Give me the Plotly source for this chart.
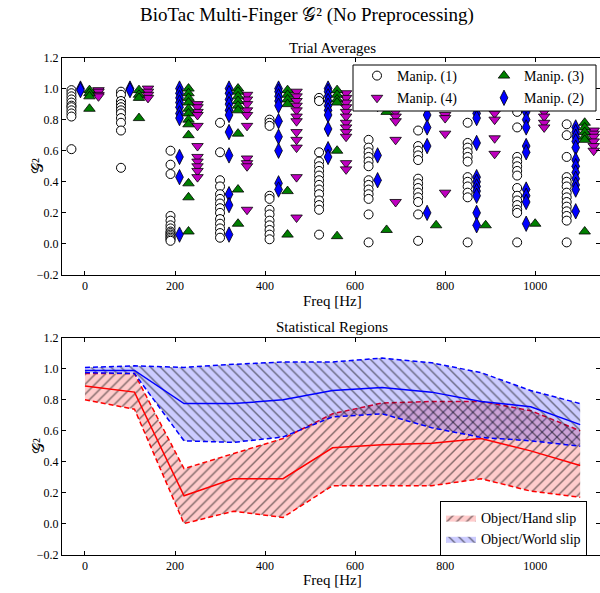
import plotly.graph_objects as go

# ---------------- data ----------------
freqs = [0, 110, 220, 330, 440, 550, 660, 770, 880, 990, 1100]

manip1 = [
    [0.99, 0.97, 0.95, 0.93, 0.91, 0.89, 0.88, 0.86, 0.84, 0.82, 0.61],
    [0.98, 0.96, 0.92, 0.90, 0.88, 0.86, 0.84, 0.81, 0.78, 0.73, 0.49],
    [0.60, 0.51, 0.45, 0.18, 0.15, 0.12, 0.10, 0.08, 0.07, 0.06, 0.05, 0.04, 0.03, 0.02],
    [0.78, 0.59, 0.41, 0.37, 0.32, 0.29, 0.26, 0.23, 0.20, 0.16, 0.13, 0.10, 0.07, 0.04],
    [0.80, 0.78, 0.76, 0.31, 0.29, 0.22, 0.19, 0.15, 0.12, 0.09, 0.06, 0.03],
    [0.94, 0.92, 0.59, 0.53, 0.50, 0.47, 0.44, 0.41, 0.38, 0.35, 0.32, 0.28, 0.25, 0.22, 0.06],
    [0.67, 0.62, 0.59, 0.56, 0.53, 0.50, 0.41, 0.38, 0.35, 0.32, 0.29, 0.19, 0.01],
    [0.73, 0.63, 0.60, 0.57, 0.54, 0.42, 0.39, 0.36, 0.33, 0.30, 0.27, 0.19, 0.02],
    [0.78, 0.65, 0.62, 0.59, 0.56, 0.53, 0.43, 0.40, 0.37, 0.33, 0.30, 0.01],
    [0.85, 0.75, 0.56, 0.53, 0.50, 0.47, 0.44, 0.36, 0.31, 0.28, 0.25, 0.22, 0.20, 0.01],
    [0.77, 0.70, 0.56, 0.43, 0.40, 0.37, 0.33, 0.30, 0.27, 0.24, 0.21, 0.18, 0.15, 0.01],
]
manip2 = [
    [1.00, 0.99],
    [1.00, 0.99],
    [1.00, 0.97, 0.94, 0.91, 0.88, 0.84, 0.81, 0.56, 0.43, 0.06],
    [1.00, 0.97, 0.93, 0.90, 0.86, 0.83, 0.72, 0.57, 0.32, 0.25, 0.06],
    [1.00, 0.98, 0.95, 0.92, 0.89, 0.79, 0.69, 0.60, 0.39, 0.35],
    [1.00, 0.98, 0.95, 0.92, 0.89, 0.86, 0.83, 0.74, 0.61, 0.56],
    [0.95, 0.90, 0.57, 0.41],
    [0.95, 0.90, 0.83, 0.75, 0.63, 0.20],
    [0.92, 0.84, 0.81, 0.65, 0.43, 0.40, 0.37, 0.34, 0.31, 0.20, 0.12],
    [0.92, 0.85, 0.80, 0.75, 0.63, 0.59, 0.35, 0.31, 0.27, 0.13],
    [0.75, 0.72, 0.69, 0.66, 0.62, 0.54, 0.50, 0.46, 0.42, 0.38, 0.35, 0.21],
]
manip3 = [
    [0.99, 0.97, 0.95, 0.87],
    [0.99, 0.96, 0.94, 0.81],
    [1.00, 0.97, 0.94, 0.91, 0.87, 0.84, 0.80, 0.77, 0.70, 0.39, 0.30, 0.08],
    [1.00, 0.98, 0.95, 0.92, 0.89, 0.86, 0.71, 0.35, 0.13],
    [0.99, 0.96, 0.93, 0.90, 0.34, 0.06],
    [0.99, 0.96, 0.93, 0.91, 0.60, 0.05],
    [0.95, 0.85, 0.09],
    [0.95, 0.12],
    [0.95, 0.12],
    [0.95, 0.13],
    [0.78, 0.75, 0.72, 0.69, 0.67, 0.08],
]
manip4 = [
    [0.99, 0.98, 0.96, 0.95],
    [1.00, 0.98, 0.96, 0.94],
    [0.90, 0.88, 0.85, 0.83, 0.76, 0.63, 0.56, 0.53, 0.50, 0.47, 0.43],
    [0.96, 0.93, 0.90, 0.86, 0.83, 0.76, 0.55, 0.52, 0.50, 0.22],
    [0.98, 0.95, 0.92, 0.89, 0.86, 0.82, 0.79, 0.72, 0.67, 0.62, 0.43, 0.17],
    [0.97, 0.94, 0.91, 0.88, 0.85, 0.82, 0.78, 0.75, 0.72, 0.69, 0.52, 0.48],
    [0.95, 0.85, 0.82, 0.79, 0.67, 0.27],
    [0.95, 0.83, 0.81, 0.71, 0.33],
    [0.95, 0.84, 0.80, 0.68, 0.58],
    [0.95, 0.85, 0.82, 0.78, 0.75],
    [0.73, 0.71, 0.69, 0.66, 0.63, 0.60],
]

hand_mean = [0.89, 0.85, 0.18, 0.29, 0.29, 0.49, 0.51, 0.52, 0.55, 0.47, 0.375]
hand_upper = [0.97, 0.97, 0.355, 0.45, 0.55, 0.71, 0.78, 0.79, 0.79, 0.73, 0.60]
hand_lower = [0.80, 0.74, 0.0, 0.08, 0.04, 0.245, 0.245, 0.245, 0.29, 0.21, 0.17]
world_mean = [0.99, 0.99, 0.776, 0.776, 0.80, 0.86, 0.88, 0.85, 0.79, 0.755, 0.64]
world_upper = [1.01, 1.02, 1.01, 1.03, 1.045, 1.045, 1.07, 1.04, 0.976, 0.86, 0.776]
world_lower = [0.976, 0.97, 0.535, 0.525, 0.56, 0.69, 0.71, 0.62, 0.557, 0.535, 0.50]

x_ticks = [0, 200, 400, 600, 800, 1000]
y_ticks = [-0.2, 0.0, 0.2, 0.4, 0.6, 0.8, 1.0, 1.2]

# ---------------- styling ----------------
FONT = "Liberation Serif, DejaVu Serif, serif"
W, H, L = 600, 593, 62
PW = W - L
G2 = "\U0001D4A2\u00b2"


def px_x(p):
    return (p - L) / PW


def px_y(p):
    return 1 - p / H


fig = go.Figure()


def add_manip(vals, offset, name, symbol, size, color, lw, legend):
    xs, ys = [], []
    for f, vs in zip(freqs, vals):
        for v in vs:
            xs.append(f + offset)
            ys.append(v)
    fig.add_trace(go.Scatter(
        x=xs, y=ys, mode="markers", name=name, legend=legend, legendgroup=name,
        marker=dict(symbol=symbol, size=size, color=color,
                    line=dict(color="black", width=lw)),
        xaxis="x", yaxis="y"))


add_manip(manip1, -30, "Manip. (1)", "circle", 9, "white", 1.0, "legend")
add_manip(manip4, 30, "Manip. (4)", "triangle-down", 10, "#BF00BF", 0.8, "legend")
add_manip(manip3, 10, "Manip. (3)", "triangle-up", 10, "#008000", 0.8, "legend2")
add_manip(manip2, -10, "Manip. (2)", "diamond-tall", 11, "#0000FF", 0.8, "legend2")

DASH = "5px,3px"


def add_band(mean, upper, lower, color, fill, shape, name):
    fig.add_trace(go.Scatter(
        x=freqs + freqs[::-1], y=upper + lower[::-1], mode="lines",
        fill="toself", fillcolor=fill, line=dict(width=0),
        fillpattern=dict(shape=shape, fgcolor="black", bgcolor=fill,
                         size=7, solidity=0.2),
        name=name, legend="legend3", xaxis="x2", yaxis="y2"))
    for arr, dash in ((upper, DASH), (lower, DASH), (mean, "solid")):
        fig.add_trace(go.Scatter(
            x=freqs, y=arr, mode="lines", showlegend=False,
            line=dict(color=color, width=1.5, dash=dash),
            xaxis="x2", yaxis="y2"))


add_band(hand_mean, hand_upper, hand_lower, "red", "rgba(255,0,0,0.2)", "/",
         "Object/Hand slip")
add_band(world_mean, world_upper, world_lower, "blue", "rgba(0,0,255,0.2)", "\\",
         "Object/World slip")

axis_common = dict(
    showline=True, linecolor="black", linewidth=1, mirror="allticks",
    ticks="inside", ticklen=4, tickcolor="black", showgrid=False,
    zeroline=False, automargin=False,
    tickfont=dict(family=FONT, size=12, color="black"),
)
xr = [-51, 1144]
fig.update_layout(
    xaxis=dict(domain=[0, 1], range=xr, tickvals=x_ticks, anchor="y", **axis_common),
    yaxis=dict(domain=[px_y(275), px_y(57.5)], range=[-0.2, 1.2], tickvals=y_ticks,
               tickformat=".1f", anchor="x", **axis_common),
    xaxis2=dict(domain=[0, 1], range=xr, tickvals=x_ticks, anchor="y2", **axis_common),
    yaxis2=dict(domain=[px_y(554.5), px_y(338)], range=[-0.2, 1.2], tickvals=y_ticks,
                tickformat=".1f", anchor="x2", **axis_common),
)

fig.update_layout(
    width=W, height=H, margin=dict(l=L, r=0, t=0, b=0, autoexpand=False),
    paper_bgcolor="white", plot_bgcolor="white",
    font=dict(family=FONT, color="black"),
    legend=dict(x=px_x(357), y=px_y(60), xanchor="left", yanchor="top",
                bgcolor="rgba(0,0,0,0)", tracegroupgap=1,
                font=dict(family=FONT, size=14)),
    legend2=dict(x=px_x(484), y=px_y(60), xanchor="left", yanchor="top",
                 bgcolor="rgba(0,0,0,0)", tracegroupgap=1,
                 font=dict(family=FONT, size=14)),
    legend3=dict(x=px_x(440), y=px_y(501), xanchor="left", yanchor="top",
                 bgcolor="white", bordercolor="black", borderwidth=1,
                 font=dict(family=FONT, size=14)),
    shapes=[dict(type="rect", xref="paper", yref="paper",
                 x0=px_x(353), x1=px_x(596), y0=px_y(111), y1=px_y(65),
                 fillcolor="white", line=dict(color="black", width=1),
                 layer="above")],
)

ann = [
    dict(text="BioTac Multi-Finger " + G2 + " (No Preprocessing)",
         x=px_x(307), y=px_y(15), size=19),
    dict(text="Trial Averages", x=px_x(332), y=px_y(48), size=15),
    dict(text="Freq [Hz]", x=px_x(332), y=px_y(301), size=15),
    dict(text="Statistical Regions", x=px_x(332), y=px_y(327), size=15),
    dict(text="Freq [Hz]", x=px_x(332), y=px_y(580), size=15),
]
annotations = []
for a in ann:
    annotations.append(dict(text=a["text"], x=a["x"], y=a["y"], xref="paper",
                            yref="paper", showarrow=False, xanchor="center",
                            yanchor="middle", font=dict(family=FONT, size=a["size"])))
for yc in (166, 446):
    annotations.append(dict(text=G2, x=px_x(38), y=px_y(yc), xref="paper",
                            yref="paper", showarrow=False, textangle=-90,
                            xanchor="center", yanchor="middle",
                            font=dict(family=FONT, size=16)))
fig.update_layout(annotations=annotations)

fig.write_html(
    "out.html",
    config={"displayModeBar": False},
    post_script="document.body.style.margin='0';document.body.style.overflow='hidden';",
)
